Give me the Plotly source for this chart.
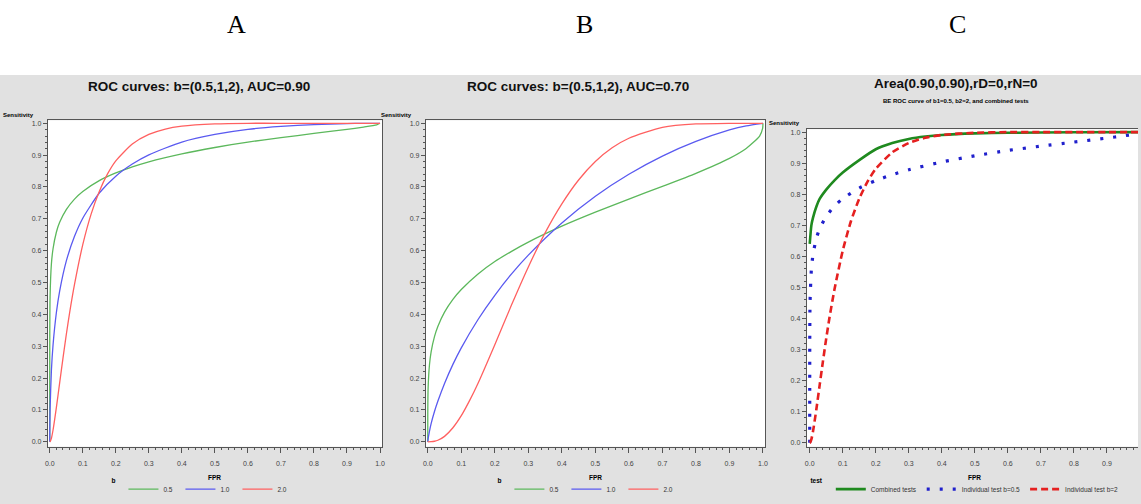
import plotly.graph_objects as go

W, H = 1141, 504

# ---------------- data ----------------
# Panel A: AUC = 0.90
fpr_a_b05 = [0, 1e-6, 1e-5, 1e-4, 0.001, 0.005, 0.01, 0.02, 0.03, 0.05, 0.075, 0.1, 0.15, 0.2, 0.25,
             0.3, 0.4, 0.5, 0.6, 0.7, 0.8, 0.9, 0.95, 0.99, 1.0]
sens_a_b05 = [0, 0.17, 0.24, 0.335, 0.455, 0.558, 0.606, 0.658, 0.689, 0.729, 0.762, 0.786, 0.820, 0.844,
              0.863, 0.879, 0.904, 0.924, 0.941, 0.955, 0.968, 0.981, 0.988, 0.995, 1.0]
fpr_a_b1 = [0, 1e-4, 0.001, 0.005, 0.01, 0.02, 0.03, 0.05, 0.075, 0.1, 0.15, 0.2, 0.25, 0.3, 0.4, 0.5,
            0.6, 0.7, 0.8, 0.9, 0.95, 1.0]
sens_a_b1 = [0, 0.028, 0.101, 0.223, 0.304, 0.405, 0.473, 0.567, 0.645, 0.702, 0.781, 0.834, 0.872, 0.901,
             0.941, 0.965, 0.981, 0.990, 0.996, 0.999, 1.0, 1.0]
fpr_a_b2 = [0, 0.001, 0.005, 0.01, 0.02, 0.03, 0.04, 0.05, 0.06, 0.075, 0.1, 0.125, 0.15, 0.175, 0.2,
            0.25, 0.3, 0.35, 0.4, 0.5, 0.6, 0.7, 0.8, 0.9, 1.0]
sens_a_b2 = [0, 0.0005, 0.011, 0.037, 0.107, 0.185, 0.262, 0.336, 0.404, 0.494, 0.619, 0.714, 0.786, 0.841,
             0.882, 0.935, 0.965, 0.982, 0.991, 0.998, 1.0, 1.0, 1.0, 1.0, 1.0]

# Panel B: AUC = 0.70
fpr_b_b05 = [0, 1e-6, 1e-5, 1e-4, 0.001, 0.005, 0.01, 0.02, 0.03, 0.05, 0.075, 0.1, 0.15, 0.2, 0.25,
             0.3, 0.4, 0.5, 0.6, 0.7, 0.8, 0.9, 0.95, 0.99, 0.999, 1.0]
sens_b_b05 = [0, 0.037, 0.061, 0.102, 0.169, 0.241, 0.282, 0.330, 0.362, 0.407, 0.447, 0.478, 0.527, 0.566,
              0.598, 0.627, 0.677, 0.721, 0.762, 0.802, 0.843, 0.890, 0.921, 0.960, 0.984, 1.0]
fpr_b_b1 = [0, 0.001, 0.005, 0.01, 0.02, 0.03, 0.05, 0.075, 0.1, 0.15, 0.2, 0.25, 0.3, 0.4, 0.5, 0.6,
            0.7, 0.8, 0.9, 0.95, 1.0]
sens_b_b1 = [0, 0.009, 0.033, 0.057, 0.095, 0.127, 0.183, 0.243, 0.295, 0.384, 0.460, 0.527, 0.586, 0.687,
             0.771, 0.840, 0.897, 0.943, 0.979, 0.992, 1.0]
fpr_b_b2 = [0, 0.01, 0.02, 0.03, 0.05, 0.075, 0.1, 0.125, 0.15, 0.2, 0.25, 0.3, 0.35, 0.4, 0.45, 0.5, 0.55,
            0.6, 0.7, 0.8, 0.9, 1.0]
sens_b_b2 = [0, 0.0003, 0.0017, 0.0048, 0.017, 0.044, 0.082, 0.130, 0.184, 0.305, 0.430, 0.549, 0.656, 0.747,
             0.822, 0.880, 0.923, 0.953, 0.987, 0.998, 1.0, 1.0]

# Panel C: combined test (believe-the-extreme) vs individual tests, AUC 0.90 each
fpr_c_comb = [0, 0.005, 0.01, 0.02, 0.03, 0.05, 0.075, 0.1, 0.15, 0.2, 0.25, 0.3, 0.35, 0.4, 0.5, 0.6,
              0.8, 1.0]
sens_c_comb = [0.64, 0.70, 0.725, 0.76, 0.785, 0.815, 0.845, 0.87, 0.91, 0.945, 0.965, 0.978, 0.986, 0.991,
               0.996, 0.998, 0.9995, 1.0]
fpr_c_b05, sens_c_b05 = fpr_a_b05, sens_a_b05
fpr_c_b2, sens_c_b2 = fpr_a_b2, sens_a_b2

ticks = [0.0, 0.1, 0.2, 0.3, 0.4, 0.5, 0.6, 0.7, 0.8, 0.9, 1.0]
tick_text = ["0.0", "0.1", "0.2", "0.3", "0.4", "0.5", "0.6", "0.7", "0.8", "0.9", "1.0"]
panel_letters = ["A", "B", "C"]
titles = ["ROC curves: b=(0.5,1,2), AUC=0.90", "ROC curves: b=(0.5,1,2), AUC=0.70",
          "Area(0.90,0.90),rD=0,rN=0"]
subtitle_c = "BE ROC curve of b1=0.5, b2=2, and combined tests"
names_ab = ["0.5", "1.0", "2.0"]
names_c = ["Combined tests", "Individual test b=0.5", "Individual test b=2"]

# ---------------- style ----------------
SANS = "Liberation Sans, Arial, sans-serif"
GREEN, BLUE, RED = "#5cb85c", "#5a5af0", "#ff6060"
GREEN_C, BLUE_C, RED_C = "#1f8a1f", "#2020cc", "#e52020"
FRAME = "#555555"
TICKC = "#444444"


def px_x(p):
    return p / W


def px_y(p):
    return 1 - p / H


fig = go.Figure()

# Panel A
for x, y, c, n in [(fpr_a_b05, sens_a_b05, GREEN, names_ab[0]),
                   (fpr_a_b1, sens_a_b1, BLUE, names_ab[1]),
                   (fpr_a_b2, sens_a_b2, RED, names_ab[2])]:
    fig.add_trace(go.Scatter(x=x, y=y, mode="lines", name=n,
                             line=dict(color=c, width=1.3, shape="spline", smoothing=0.6),
                             xaxis="x", yaxis="y", legend="legend"))
# Panel B
for x, y, c, n in [(fpr_b_b05, sens_b_b05, GREEN, names_ab[0]),
                   (fpr_b_b1, sens_b_b1, BLUE, names_ab[1]),
                   (fpr_b_b2, sens_b_b2, RED, names_ab[2])]:
    fig.add_trace(go.Scatter(x=x, y=y, mode="lines", name=n,
                             line=dict(color=c, width=1.3, shape="spline", smoothing=0.6),
                             xaxis="x2", yaxis="y2", legend="legend2"))
# Panel C
fig.add_trace(go.Scatter(x=fpr_c_comb, y=sens_c_comb, mode="lines", name=names_c[0],
                         line=dict(color=GREEN_C, width=2.6, shape="spline", smoothing=0.6),
                         xaxis="x3", yaxis="y3", legend="legend3"))
fig.add_trace(go.Scatter(x=fpr_c_b05, y=sens_c_b05, mode="lines", name=names_c[1],
                         line=dict(color=BLUE_C, width=3.2, dash="3px,10px", shape="spline", smoothing=0.6),
                         xaxis="x3", yaxis="y3", legend="legend3"))
fig.add_trace(go.Scatter(x=fpr_c_b2, y=sens_c_b2, mode="lines", name=names_c[2],
                         line=dict(color=RED_C, width=2.6, dash="7px,4px", shape="spline", smoothing=0.6),
                         xaxis="x3", yaxis="y3", legend="legend3"))

tickfont = dict(family=SANS, size=7, color=TICKC)


def xaxis(l, r, rng, anchor, mirror=True):
    return dict(domain=[px_x(l), px_x(r)], range=rng, anchor=anchor, tickvals=ticks, ticktext=tick_text,
                ticks="outside", ticklen=5, tickcolor=FRAME, showline=True, linecolor=FRAME, linewidth=1,
                mirror=mirror, showgrid=False, zeroline=False, tickfont=tickfont, ticklabelstandoff=5,
                minor=dict(dtick=0.02, ticks="outside", ticklen=2, tickcolor=FRAME, showgrid=False))


def yaxis(t, b, rng, anchor, mirror=True):
    return dict(domain=[px_y(b), px_y(t)], range=rng, anchor=anchor, tickvals=ticks, ticktext=tick_text,
                ticks="outside", ticklen=4, tickcolor=FRAME, showline=True, linecolor=FRAME, linewidth=1,
                mirror=mirror, showgrid=False, zeroline=False, tickfont=tickfont,
                minor=dict(dtick=0.02, ticks="outside", ticklen=2, tickcolor=FRAME, showgrid=False))


annotations = []
# Panel letters in the white band
for txt, xc in zip(panel_letters, [235, 585, 960]):
    annotations.append(dict(text=txt, x=px_x(xc), y=px_y(24), xref="paper", yref="paper", showarrow=False,
                            font=dict(family="Liberation Serif, Times New Roman, serif", size=26,
                                      color="black"), xanchor="center", yanchor="middle"))
# Titles
for txt, xc, yc in zip(titles, [197, 578, 958], [87, 87, 84]):
    annotations.append(dict(text="<b>" + txt + "</b>", x=px_x(xc), y=px_y(yc), xref="paper", yref="paper",
                            showarrow=False, font=dict(family=SANS, size=13.5, color="#111111"),
                            xanchor="center", yanchor="middle"))
annotations.append(dict(text="<b>" + subtitle_c + "</b>", x=px_x(958), y=px_y(101), xref="paper",
                        yref="paper", showarrow=False, font=dict(family=SANS, size=6, color="black"),
                        xanchor="center", yanchor="middle"))
# Axis labels
for xs, ys in [(33, 116), (413, 116), (803, 124)]:
    annotations.append(dict(text="<b>Sensitivity</b>", x=px_x(xs), y=px_y(ys), xref="paper", yref="paper",
                            showarrow=False, font=dict(family=SANS, size=6, color="black"),
                            xanchor="right", yanchor="middle"))
for xc in [213, 596, 977]:
    annotations.append(dict(text="<b>FPR</b>", x=px_x(xc), y=px_y(483), xref="paper", yref="paper",
                            showarrow=False, font=dict(family=SANS, size=6.5, color="black"),
                            xanchor="center", yanchor="middle"))


def legend(xc, title, entrywidth=None):
    d = dict(orientation="h", x=px_x(xc), y=px_y(495), xanchor="center", yanchor="middle",
             bgcolor="rgba(0,0,0,0)", font=dict(family=SANS, size=6.5, color="#333333"),
             title=dict(text="<b>" + title + "</b>", side="left",
                        font=dict(family=SANS, size=6.5, color="black")),
             itemwidth=30, tracegroupgap=0)
    if entrywidth:
        d.update(entrywidth=entrywidth, entrywidthmode="pixels")
    return d


fig.update_layout(
    width=W, height=H, margin=dict(l=0, r=0, t=0, b=0, pad=0),
    paper_bgcolor="#e1e1e1", plot_bgcolor="white",
    xaxis=xaxis(45, 381, [-0.006, 1.006], "y"),
    yaxis=yaxis(121, 452, [-0.0155, 1.0093], "x"),
    xaxis2=xaxis(425, 766, [-0.006, 1.006], "y2"),
    yaxis2=yaxis(121, 452, [-0.0155, 1.0093], "x2"),
    xaxis3=xaxis(808, 1141, [-0.009, 0.994], "y3"),
    yaxis3=yaxis(130, 452, [-0.0127, 1.0095], "x3", mirror=False),
    legend=legend(200, "b", 12), legend2=legend(588, "b", 12), legend3=legend(968, "test"),
    annotations=annotations,
    shapes=[dict(type="rect", xref="paper", yref="paper", x0=-0.02, x1=1.02, y0=px_y(75), y1=1.02,
                 fillcolor="white", line=dict(width=0), layer="below")],
    showlegend=True,
)

fig.write_html("out.html")
